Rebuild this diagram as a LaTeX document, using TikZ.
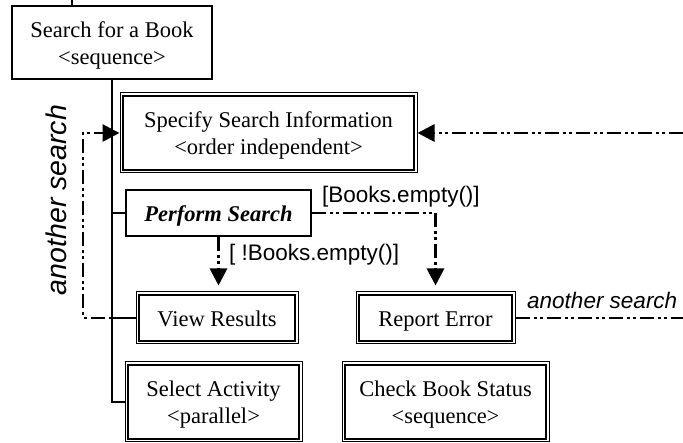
\documentclass[tikz,border=0pt]{standalone}
\usepackage{fontspec}
\setmainfont{Liberation Serif}
\setsansfont{Liberation Sans}
\usetikzlibrary{arrows.meta}
\begin{document}
\begin{tikzpicture}[x=1pt,y=-1pt,
  every node/.style={font=\fontsize{22.5}{27}\selectfont, align=center, inner sep=0pt},
  one line/.style={text height=18pt, text depth=0pt},
  two lines/.style={text height=48pt, text depth=4pt},
  sbox/.style={draw, line width=1.8pt},
  dbox/.style={draw, line width=1pt},
  frame/.style={line width=1.8pt},
  link/.style={line width=1.8pt},
  flow/.style={line width=2.8pt, dash pattern=on 14pt off 4pt on 3pt off 3pt on 3pt off 4pt},
  tip/.style={-{Triangle[length=17pt,width=17pt]}},
  guard/.style={font=\sffamily\fontsize{22.5}{27}\selectfont},
  loop label/.style={font=\sffamily\itshape\fontsize{#1}{30}\selectfont}
]
\useasboundingbox (0,0) rectangle (683,443);

% activities
\node[sbox, two lines, minimum width=200pt, minimum height=73pt] (book) at (112,42.5) {Search for a Book\\<sequence>};
\node[dbox, two lines, minimum width=297pt, minimum height=80pt] (spec) at (268.5,133) {Specify Search Information\\<order independent>};
\node[sbox, one line, minimum width=185pt, minimum height=46pt] (perf) at (218.5,213) {\bfseries\itshape Perform Search};
\node[dbox, one line, minimum width=162pt, minimum height=52pt] (view) at (217,318) {View Results};
\node[dbox, one line, minimum width=159pt, minimum height=52pt] (report) at (435.5,318) {Report Error};
\node[dbox, two lines, minimum width=177pt, minimum height=80pt] (select) at (213.5,402) {Select Activity\\<parallel>};
\node[dbox, two lines, minimum width=207pt, minimum height=80pt] (check) at (445.5,402) {Check Book Status\\<sequence>};

% inner frame of the composite activities
\foreach \n in {spec,view,report,select,check}
  \draw[frame] ([shift={(3.5pt,-3.5pt)}]\n.north west) rectangle ([shift={(-3.5pt,3.5pt)}]\n.south east);

% decomposition tree
\coordinate (feed) at (72,0);
\draw[link] (feed) -- (feed |- book.north);
\draw[link] (book.south) |- (select.west);
\draw[link] (book.south |- perf.west) -- (perf.west);
\draw[link] (book.south |- view.west) -- (view.west);

% control flow
\coordinate (exitR) at (683,318);
\coordinate (entryR) at (683,133);
\coordinate (loopL) at (83,133);
\draw[flow, tip, shorten >=6pt] (perf.south) -- (perf.south |- view.north);
\draw[flow, tip, shorten >=6pt] (perf.east) -| (report.north);
\draw[flow] (report.east) -- (exitR);
\draw[flow, tip] (entryR) -- (spec.east);
\draw[flow, tip] (view.west) -| (loopL) -- (spec.west);

% guards and labels
\node[guard, anchor=west] (notempty) at (229,255) {[ !Books.empty()]};
\node[guard, anchor=west] (empty) at (322,197) {[Books.empty()]};
\node[loop label=22.5, anchor=west] (againR) at (527,300) {another search};
\node[loop label=28.5, rotate=90] (againL) at (56,200) {another search};
\end{tikzpicture}
\end{document}
